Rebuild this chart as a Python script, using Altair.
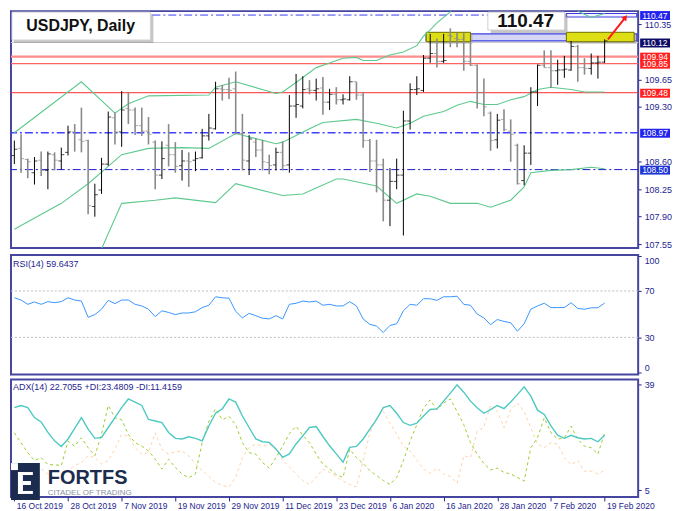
import altair as alt
import pandas as pd

# ---------------- data ----------------
DATE_LABELS = ["16 Oct 2019", "28 Oct 2019", "7 Nov 2019", "19 Nov 2019", "29 Nov 2019",
               "11 Dec 2019", "23 Dec 2019", "6 Jan 2020", "16 Jan 2020", "28 Jan 2020",
               "7 Feb 2020", "19 Feb 2020"]
DATE_STEP = 8  # bars between date labels

OPEN = [108.68, 108.77, 108.63, 108.46, 108.62, 108.49, 108.69, 108.61, 108.72, 108.98,
        108.88, 108.87, 108.03, 108.24, 108.57, 109.16, 108.98, 109.28, 109.26, 109.06,
        108.99, 108.85, 108.43, 108.81, 108.69, 108.55, 108.61, 108.62, 108.65, 108.93,
        109.02, 109.53, 109.52, 109.53, 108.96, 108.61, 108.85, 108.75, 108.59, 108.56,
        108.72, 108.56, 109.31, 109.31, 109.53, 109.51, 109.54, 109.36, 109.46, 109.39,
        109.39, 109.62, 109.45, 108.87, 108.61, 108.56, 108.11, 108.35, 108.43, 109.12,
        109.52, 109.51, 109.92, 109.98, 109.88, 110.21, 110.17, 110.16, 109.88, 109.83,
        109.48, 109.22, 108.88, 109.14, 108.99, 108.81, 108.36, 108.71, 109.49, 109.83,
        109.80, 109.76, 109.77, 109.77, 110.07, 109.80, 109.79, 109.86, 109.87]
HIGH = [108.87, 108.95, 108.64, 108.66, 108.73, 108.73, 108.72, 108.78, 109.06, 109.08,
        109.29, 108.88, 108.32, 108.65, 109.24, 109.23, 109.50, 109.49, 109.29, 109.29,
        109.17, 108.87, 108.86, 109.08, 108.85, 108.75, 108.72, 108.73, 109.02, 109.21,
        109.62, 109.58, 109.67, 109.75, 109.21, 108.94, 108.90, 108.88, 108.69, 108.78,
        108.86, 109.45, 109.72, 109.69, 109.64, 109.66, 109.68, 109.53, 109.55, 109.46,
        109.69, 109.62, 109.49, 108.89, 108.88, 108.64, 108.52, 108.64, 109.25, 109.60,
        109.69, 109.96, 110.23, 110.17, 110.23, 110.30, 110.24, 110.24, 110.12, 109.84,
        109.66, 109.24, 109.21, 109.27, 109.14, 108.83, 108.81, 109.55, 109.84, 110.02,
        110.02, 109.90, 109.95, 110.14, 110.09, 109.92, 109.98, 109.95, 110.16]
LOW = [108.57, 108.46, 108.39, 108.31, 108.42, 108.25, 108.49, 108.50, 108.68, 108.73,
       108.72, 107.93, 107.90, 108.19, 108.55, 108.82, 108.79, 109.08, 108.94, 108.93,
       108.82, 108.25, 108.38, 108.54, 108.46, 108.36, 108.28, 108.48, 108.64, 108.87,
       109.01, 109.38, 109.40, 108.95, 108.49, 108.43, 108.66, 108.49, 108.44, 108.49,
       108.49, 108.46, 109.16, 109.28, 109.46, 109.38, 109.20, 109.26, 109.33, 109.33,
       109.38, 109.39, 108.78, 108.47, 108.21, 107.84, 107.78, 108.25, 107.66, 109.01,
       109.45, 109.49, 109.86, 109.80, 109.86, 110.06, 110.06, 109.76, 109.82, 109.28,
       109.18, 108.74, 108.77, 108.99, 108.60, 108.31, 108.30, 108.56, 109.31, 109.80,
       109.54, 109.58, 109.67, 109.76, 109.62, 109.71, 109.71, 109.66, 109.86]
CLOSE = [108.76, 108.64, 108.60, 108.61, 108.49, 108.70, 108.62, 108.69, 108.98, 108.96,
         108.86, 108.04, 108.18, 108.57, 109.17, 108.98, 109.26, 109.26, 109.06, 108.99,
         108.95, 108.43, 108.64, 108.69, 108.54, 108.61, 108.60, 108.64, 108.93, 109.03,
         109.53, 109.52, 109.51, 108.96, 108.62, 108.89, 108.75, 108.60, 108.55, 108.72,
         108.55, 109.31, 109.33, 109.52, 109.51, 109.53, 109.36, 109.46, 109.39, 109.40,
         109.62, 109.45, 108.87, 108.61, 108.56, 108.11, 108.35, 108.43, 109.12, 109.52,
         109.53, 109.92, 109.98, 109.88, 109.89, 110.20, 110.16, 109.88, 109.83, 109.48,
         109.30, 108.87, 109.13, 109.01, 108.95, 108.32, 108.71, 109.49, 109.83, 109.80,
         109.76, 109.77, 109.78, 110.07, 109.80, 109.79, 109.86, 109.87, 110.14]

BB_UP_I = [0, 10, 15, 17, 20, 29, 30, 33, 39, 40, 42, 45, 47, 49, 51, 52, 54, 56, 58, 60,
           61, 62, 63, 65, 68, 74, 80, 84, 86, 88]
BB_UP = [108.97, 109.62, 109.22, 109.34, 109.44, 109.45, 109.55, 109.62, 109.47, 109.49,
         109.61, 109.80, 109.86, 109.92, 109.93, 109.89, 109.89, 109.96, 110.00, 110.08,
         110.20, 110.28, 110.37, 110.51, 110.80, 110.95, 110.85, 110.52, 110.44, 110.49]
BB_MID_I = [0, 7, 11, 16, 20, 25, 29, 33, 39, 40, 44, 46, 51, 54, 57, 59, 61, 64, 66, 68,
            70, 72, 74, 76, 78, 80, 83, 85, 88]
BB_MID = [107.74, 108.07, 108.32, 108.69, 108.77, 108.78, 108.77, 108.96, 108.83, 108.85,
          109.02, 109.10, 109.14, 109.09, 109.03, 109.09, 109.18, 109.24, 109.32, 109.37,
          109.33, 109.33, 109.39, 109.43, 109.52, 109.55, 109.52, 109.49, 109.49]
BB_LOW_I = [0, 8, 13, 16, 21, 24, 30, 33, 40, 43, 48, 49, 54, 57, 60, 62, 65, 69, 71, 74,
            76, 77, 80, 83, 86, 88]
BB_LOW = [106.51, 106.75, 107.49, 108.07, 108.11, 108.14, 108.08, 108.32, 108.17, 108.19,
          108.38, 108.38, 108.29, 108.07, 108.19, 108.16, 108.07, 108.07, 108.02, 108.11,
          108.28, 108.46, 108.49, 108.50, 108.53, 108.51]

RSI = [64.1, 62.2, 58.5, 60.5, 58.5, 60.8, 59.9, 60.8, 64.1, 62.2,
       61.3, 47.3, 49.6, 54.3, 61.9, 59.1, 62.2, 62.2, 58.5, 57.1,
       54.3, 47.9, 52.9, 51.5, 49.6, 51.0, 51.0, 52.1, 55.7, 57.7,
       65.0, 64.1, 63.8, 52.4, 46.8, 50.7, 48.7, 46.5, 45.9, 48.7,
       45.9, 58.5, 59.4, 61.3, 60.5, 61.3, 57.7, 58.5, 57.1, 57.1,
       60.8, 57.1, 45.9, 41.2, 39.8, 34.2, 40.3, 41.7, 52.9, 58.5,
       57.7, 63.3, 63.3, 61.9, 65.0, 65.0, 65.5, 58.5, 57.7, 50.1,
       46.8, 40.9, 45.4, 43.7, 42.6, 35.3, 41.7, 54.3, 57.1, 59.4,
       55.7, 55.7, 55.7, 59.9, 54.9, 54.3, 55.5, 55.5, 59.64]
RSI_LEVELS = [70, 30]

ADX = [31.6, 32.3, 31.6, 28.4, 27.0, 23.6, 20.9, 19.1, 21.5, 24.9,
       28.4, 24.7, 21.7, 22.0, 25.2, 28.4, 31.6, 34.4, 33.4, 32.3,
       27.8, 27.3, 26.8, 23.6, 21.7, 21.5, 22.2, 21.7, 20.9, 25.7,
       29.8, 31.2, 34.4, 33.4, 28.9, 25.2, 21.5, 20.6, 20.4, 18.3,
       15.6, 16.7, 19.9, 22.5, 25.2, 25.5, 22.3, 19.3, 16.7, 14.0,
       18.8, 19.1, 21.5, 24.7, 27.8, 31.6, 32.3, 29.8, 26.8, 25.9,
       26.6, 28.9, 31.0, 31.2, 33.7, 36.3, 39.0, 36.6, 33.7, 31.6,
       29.8, 31.0, 32.3, 31.3, 33.4, 35.8, 38.3, 35.3, 30.8, 29.4,
       25.7, 22.7, 21.7, 22.7, 21.9, 21.5, 21.7, 20.6, 22.71]
PDI = [23.5, 20.3, 17.1, 14.5, 15.5, 13.2, 13.2, 12.9, 20.8, 19.2,
       21.9, 18.7, 16.1, 23.0, 32.3, 28.3, 27.7, 23.0, 20.3, 19.2,
       17.6, 15.0, 11.8, 15.0, 12.3, 10.2, 9.0, 10.2, 20.3, 27.2,
       31.2, 27.7, 28.8, 26.1, 20.3, 17.1, 16.6, 13.9, 12.1, 15.5,
       19.2, 23.2, 25.6, 22.7, 20.3, 16.6, 13.4, 11.8, 10.0, 9.1,
       18.2, 15.5, 13.6, 11.3, 9.7, 8.1, 6.8, 9.1, 14.5, 20.8,
       26.1, 31.5, 34.1, 30.9, 33.1, 34.4, 30.4, 26.1, 20.3, 16.6,
       13.6, 11.5, 12.1, 10.7, 10.2, 9.1, 7.9, 18.7, 21.9, 28.3,
       23.5, 21.4, 21.9, 25.6, 21.4, 19.2, 18.7, 16.6, 23.48]
MDI = [12.3, 10.7, 10.2, 11.3, 11.8, 10.2, 9.1, 9.1, 11.3, 12.9,
       13.9, 16.1, 15.5, 13.4, 14.5, 18.2, 23.0, 22.4, 18.7, 16.6,
       17.1, 23.5, 18.2, 16.6, 17.4, 17.6, 16.1, 13.4, 11.3, 9.4,
       7.5, 6.5, 6.0, 9.1, 15.5, 18.7, 19.8, 19.2, 19.8, 17.9,
       14.7, 12.5, 10.2, 8.1, 6.8, 9.1, 11.8, 10.7, 9.4, 7.9,
       6.8, 6.0, 14.5, 23.5, 28.3, 30.4, 26.7, 23.0, 19.2, 17.6,
       14.7, 11.8, 10.4, 12.1, 10.2, 9.4, 7.2, 16.1, 15.5, 24.0,
       25.3, 32.5, 30.4, 25.1, 30.9, 33.1, 30.4, 25.1, 19.8, 18.7,
       20.3, 19.8, 15.5, 13.2, 14.5, 11.1, 11.1, 10.2, 11.42]

PRICE_TICKS = [110.35, 109.65, 109.30, 108.60, 108.25, 107.90, 107.55]
RSI_TICKS = [100, 70, 30, 0]
ADX_TICKS = [39, 5]

# marked price levels and their right-hand tags
LEVEL_TAGS = [110.47, 110.12, 109.85, 109.94, 109.48, 108.97, 108.50]
TAG_BG = ["#2323ee", "#0c0c66", "#ff2020", "#ff2020", "#ff2020", "#2323ee", "#1b35d6"]

# highlighted zones (bar index range, price range)
YZ_I1, YZ_I2 = [61.4, 82.3], [68.0, 92.4]
YZ_P1, YZ_P2 = [110.13, 110.13], [110.25, 110.25]
BZ_I1, BZ_I2, BZ_P1, BZ_P2 = [61.4], [92.8], [110.14], [110.23]
TZ_I1, TZ_I2, TZ_P1, TZ_P2 = [82.3], [92.8], [110.445], [110.49]
ARROW_I, ARROW_P = [88.5, 91.1], [110.16, 110.44]

TITLE = "USDJPY, Daily"
TARGET = "110.47"
RSI_TEXT = "RSI(14) 59.6437"
ADX_TEXT = "ADX(14) 22.7055 +DI:23.4809 -DI:11.4159"

# ---------------- styling ----------------
W = 630
H_PRICE, H_RSI, H_ADX = 238, 120, 118
NAVY = "#25258f"
FONT = "Liberation Sans"
BB_COLOR = "#5dc98e"

XS = alt.Scale(domain=[-0.5, 93], nice=False, zero=False)
PS = alt.Scale(domain=[107.50, 110.52], nice=False, zero=False)
RS = alt.Scale(domain=[-2, 101], nice=False, zero=False)
AS = alt.Scale(domain=[2.8, 40.7], nice=False, zero=False)

def right_axis(values, fmt, flush=False):
    kw = dict(orient="right", values=values, format=fmt, labelColor=NAVY, labelFont=FONT,
              labelFontSize=9, tickColor=NAVY, tickSize=3, labelPadding=3, domain=False,
              grid=False, title=None, labelOverlap=False)
    if flush:
        kw["labelFlush"] = 6
    return alt.Axis(**kw)

PAXIS = right_axis(PRICE_TICKS, ".2f")
RAXIS = right_axis(RSI_TICKS, "d", flush=True)
AAXIS = right_axis(ADX_TICKS, "d")

def X(f):
    return alt.X(f, type="quantitative", scale=XS, axis=None)

def YP(f):
    return alt.Y(f, type="quantitative", scale=PS, axis=PAXIS)

one = pd.DataFrame({"a": [0]})

# ---------------- price panel ----------------
bars = pd.DataFrame({"i": list(range(len(CLOSE))), "o": OPEN, "h": HIGH, "l": LOW, "c": CLOSE})
bars["col"] = ["#000000" if c >= o else "#8a8a8a" for o, c in zip(OPEN, CLOSE)]
bars["sw"] = [1.0 if c >= o else 1.6 for o, c in zip(OPEN, CLOSE)]

bands = pd.concat([
    pd.DataFrame({"i": BB_UP_I, "v": BB_UP, "b": "up"}),
    pd.DataFrame({"i": BB_MID_I, "v": BB_MID, "b": "mid"}),
    pd.DataFrame({"i": BB_LOW_I, "v": BB_LOW, "b": "low"}),
])

def hline(v, color, width, dash=None):
    kw = dict(color=color, strokeWidth=width)
    if dash:
        kw["strokeDash"] = dash
    return alt.Chart(pd.DataFrame({"v": [v]})).mark_rule(**kw).encode(y=YP("v"))

DD = [8, 3, 2, 3]
lines = [
    hline(LEVEL_TAGS[0], "#3a3aff", 1, DD),
    hline(LEVEL_TAGS[1], "#cdcdcd", 1),
    hline(LEVEL_TAGS[3], "#ff8c8c", 2.2),
    hline(LEVEL_TAGS[2], "#ff6262", 1.2),
    hline(LEVEL_TAGS[4], "#ff2a2a", 1),
    hline(LEVEL_TAGS[5], "#4040ff", 1.6, DD),
    hline(LEVEL_TAGS[6], "#1a1ad0", 1, DD),
]

bz = pd.DataFrame({"i1": BZ_I1, "i2": BZ_I2, "p1": BZ_P1, "p2": BZ_P2})
blue_zone = alt.Chart(bz).mark_rect(fill="#d6d6f6", stroke="#3c3ce0", strokeWidth=1.2).encode(
    x=X("i1"), x2="i2", y=YP("p1"), y2="p2")
yz = pd.DataFrame({"i1": YZ_I1, "i2": YZ_I2, "p1": YZ_P1, "p2": YZ_P2})
yellow_shadow = alt.Chart(yz).mark_rect(fill="#9a9a9a", opacity=0.5, xOffset=2, x2Offset=2,
                                        yOffset=2, y2Offset=2).encode(
    x=X("i1"), x2="i2", y=YP("p1"), y2="p2")
yellow_zone = alt.Chart(yz).mark_rect(fill="#dede14", stroke="#6e6e00", strokeWidth=1).encode(
    x=X("i1"), x2="i2", y=YP("p1"), y2="p2")
tz = pd.DataFrame({"i1": TZ_I1, "i2": TZ_I2, "p1": TZ_P1, "p2": TZ_P2})
top_zone = alt.Chart(tz).mark_rect(fill="#f4f4ff", stroke="#3c3ce0", strokeWidth=1.2).encode(
    x=X("i1"), x2="i2", y=YP("p1"), y2="p2")

band_lines = alt.Chart(bands).mark_line(color=BB_COLOR, strokeWidth=1.1, clip=True).encode(
    x=X("i"), y=YP("v"), detail="b:N")

bar_rules = alt.Chart(bars).mark_rule().encode(
    x=X("i"), y=YP("l"), y2="h",
    color=alt.Color("col:N", scale=None),
    strokeWidth=alt.StrokeWidth("sw:Q", scale=None))
open_ticks = alt.Chart(bars).mark_tick(orient="horizontal", size=3, thickness=1, xOffset=-1.5).encode(
    x=X("i"), y=YP("o"), color=alt.Color("col:N", scale=None))
close_ticks = alt.Chart(bars).mark_tick(orient="horizontal", size=3, thickness=1, xOffset=1.5).encode(
    x=X("i"), y=YP("c"), color=alt.Color("col:N", scale=None))

arr = pd.DataFrame({"i1": [ARROW_I[0]], "i2": [ARROW_I[1]], "p1": [ARROW_P[0]], "p2": [ARROW_P[1]]})
arrow_line = alt.Chart(arr).mark_rule(color="#ff1a1a", strokeWidth=2).encode(
    x=X("i1"), x2="i2", y=YP("p1"), y2="p2")
arrow_head = alt.Chart(arr).mark_point(shape="triangle-up", filled=True, size=40, angle=38,
                                       color="#ff1a1a", opacity=1).encode(x=X("i2"), y=YP("p2"))

tags = pd.DataFrame({"v": LEVEL_TAGS, "t": [f"{v:.2f}" for v in LEVEL_TAGS], "bg": TAG_BG})
tag_box = alt.Chart(tags).mark_rect(yOffset=-4, y2Offset=5).encode(
    x=alt.value(W + 2), x2=alt.value(W + 32), y=YP("v"), y2="v",
    color=alt.Color("bg:N", scale=None))
tag_text = alt.Chart(tags).mark_text(align="left", baseline="middle", color="white",
                                     font=FONT, fontSize=8.5, dy=0.5).encode(
    x=alt.value(W + 4), y=YP("v"), text="t:N")

title_shadow = alt.Chart(one).mark_rect(fill="#8c8c8c", opacity=0.5).encode(
    x=alt.value(3), x2=alt.value(143), y=alt.value(3), y2=alt.value(32))
title_box = alt.Chart(one).mark_rect(fill="white", stroke="#d4d4d4").encode(
    x=alt.value(1), x2=alt.value(140), y=alt.value(1), y2=alt.value(29))
title_text = alt.Chart(one).mark_text(font=FONT, fontSize=16, fontWeight="bold", color="#111111",
                                      baseline="middle", align="center").encode(
    x=alt.value(70), y=alt.value(15), text=alt.value(TITLE))

tgt_shadow = alt.Chart(one).mark_rect(fill="#8c8c8c", opacity=0.5).encode(
    x=alt.value(482), x2=alt.value(559), y=alt.value(3), y2=alt.value(22))
tgt_box = alt.Chart(one).mark_rect(fill="white", stroke="#cfcfcf").encode(
    x=alt.value(479), x2=alt.value(556), y=alt.value(1), y2=alt.value(19))
tgt_text = alt.Chart(one).mark_text(font=FONT, fontSize=19, fontWeight="bold", color="#111111",
                                    baseline="middle", align="center").encode(
    x=alt.value(517), y=alt.value(10), text=alt.value(TARGET))

price = alt.layer(
    blue_zone, *lines, yellow_shadow, yellow_zone, top_zone, band_lines,
    bar_rules, open_ticks, close_ticks, arrow_line, arrow_head,
    tag_box, tag_text, title_shadow, title_box, title_text, tgt_shadow, tgt_box, tgt_text,
).properties(width=W, height=H_PRICE)

# ---------------- RSI panel ----------------
rsi_df = pd.DataFrame({"i": list(range(len(RSI))), "v": RSI})
rsi_lv = pd.DataFrame({"v": RSI_LEVELS})
rsi_levels = alt.Chart(rsi_lv).mark_rule(color="#bdbdbd", strokeDash=[2, 2], strokeWidth=1).encode(
    y=alt.Y("v:Q", scale=RS, axis=RAXIS))
rsi_line = alt.Chart(rsi_df).mark_line(color="#3a95ff", strokeWidth=1).encode(
    x=X("i"), y=alt.Y("v:Q", scale=RS, axis=RAXIS))
rsi_label = alt.Chart(one).mark_text(font=FONT, fontSize=9, color=NAVY, align="left",
                                     baseline="middle").encode(
    x=alt.value(2), y=alt.value(9), text=alt.value(RSI_TEXT))
rsi = alt.layer(rsi_levels, rsi_line, rsi_label).properties(width=W, height=H_RSI)

# ---------------- ADX panel ----------------
js_labels = "[" + ",".join("'" + d + "'" for d in DATE_LABELS) + "]"
xaxis = alt.Axis(orient="bottom", values=[k * DATE_STEP for k in range(len(DATE_LABELS))],
                 labelExpr=js_labels + "[round(datum.value/" + str(DATE_STEP) + ")]",
                 tickSize=4, tickColor=NAVY, labelColor=NAVY, labelFont=FONT, labelFontSize=8.5,
                 labelAlign="left", labelOffset=2, labelPadding=1, domain=False, grid=False,
                 title=None, labelOverlap=False, labelFlush=False)
adx_df = pd.DataFrame({"i": list(range(len(ADX))), "adx": ADX, "pdi": PDI, "mdi": MDI})
XA = alt.X("i:Q", scale=XS, axis=xaxis)
mdi_line = alt.Chart(adx_df).mark_line(color="#ffd2a8", strokeWidth=1, strokeDash=[3, 3]).encode(
    x=XA, y=alt.Y("mdi:Q", scale=AS, axis=AAXIS))
pdi_line = alt.Chart(adx_df).mark_line(color="#9ccd2e", strokeWidth=1, strokeDash=[3, 3]).encode(
    x=XA, y=alt.Y("pdi:Q", scale=AS, axis=AAXIS))
adx_line = alt.Chart(adx_df).mark_line(color="#4ec9c2", strokeWidth=1.4).encode(
    x=XA, y=alt.Y("adx:Q", scale=AS, axis=AAXIS))
adx_label = alt.Chart(one).mark_text(font=FONT, fontSize=9, color=NAVY, align="left",
                                     baseline="middle").encode(
    x=alt.value(2), y=alt.value(8), text=alt.value(ADX_TEXT))

LOGO = "#1c2c4e"
def box(x1, x2, y1, y2, color):
    return alt.Chart(one).mark_rect(fill=color).encode(
        x=alt.value(x1), x2=alt.value(x2), y=alt.value(y1), y2=alt.value(y2))

logo = [
    box(0, 29, 84, 121, LOGO),
    box(0, 7, 84, 91, "white"),
    box(7, 12, 93, 115, "white"),
    box(7, 22, 93, 96, "white"),
    box(12, 20, 102, 106, "white"),
    box(7, 22, 112, 115, "white"),
]
logo_text1 = alt.Chart(one).mark_text(font=FONT, fontSize=20, fontWeight="bold", color=LOGO,
                                      align="left", baseline="alphabetic").encode(
    x=alt.value(37), y=alt.value(105), text=alt.value("FORTFS"))
logo_text2 = alt.Chart(one).mark_text(font=FONT, fontSize=8, color="#8b94a1",
                                      align="left", baseline="alphabetic").encode(
    x=alt.value(37), y=alt.value(116), text=alt.value("CITADEL OF TRADING"))

adx = alt.layer(mdi_line, pdi_line, adx_line, adx_label, *logo, logo_text1, logo_text2
                ).properties(width=W, height=H_ADX)

chart = alt.vconcat(price, rsi, adx, spacing=3).properties(
    padding=0,
    background="white",
).configure_view(stroke="#4646a0", strokeWidth=2)

chart.save("out.html", embed_options={"renderer": "svg", "actions": False})
